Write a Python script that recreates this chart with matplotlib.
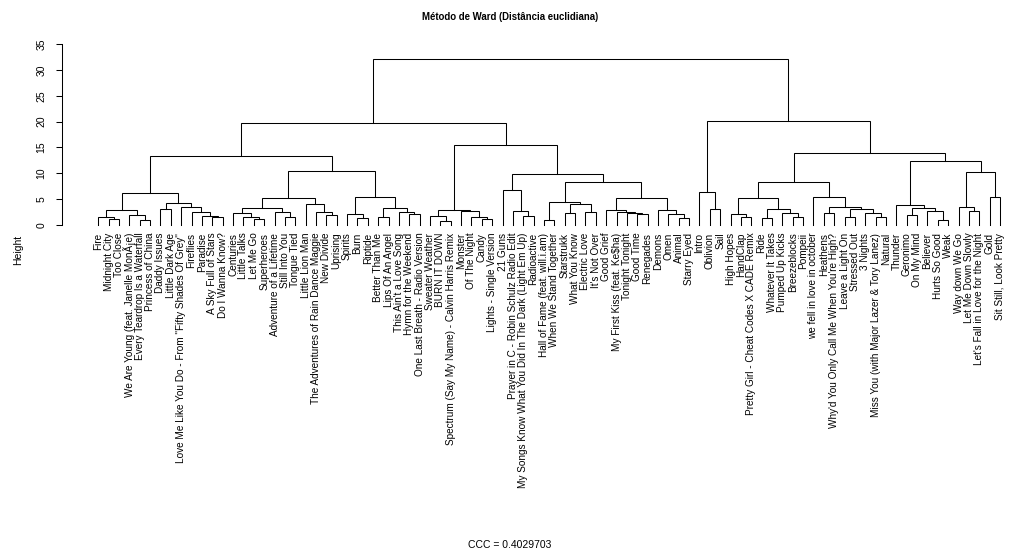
import matplotlib
matplotlib.use("Agg")
from matplotlib import pyplot as plt

plt.rcParams['font.family'] = ['Liberation Sans', 'DejaVu Sans']

# leaf labels in the order they appear along the x axis
labels = [
    "Fire", "Midnight City", "Too Close", "We Are Young (feat. Janelle MonÃ¡e)",
    "Every Teardrop Is a Waterfall", "Princess of China", "Daddy Issues", "Little Dark Age",
    "Love Me Like You Do - From \"Fifty Shades Of Grey\"", "Fireflies", "Paradise",
    "A Sky Full of Stars", "Do I Wanna Know?", "Centuries", "Little Talks", "Let Me Go",
    "Superheroes", "Adventure of a Lifetime", "Still Into You", "Tongue Tied",
    "Little Lion Man", "The Adventures of Rain Dance Maggie", "New Divide", "Uprising",
    "Spirits", "Burn", "Riptide", "Better Than Me", "Lips Of An Angel",
    "This Ain't a Love Song", "Hymn for the Weekend", "One Last Breath - Radio Version",
    "Sweater Weather", "BURN IT DOWN", "Spectrum (Say My Name) - Calvin Harris Remix",
    "Monster", "Of The Night", "Candy", "Lights - Single Version", "21 Guns",
    "Prayer in C - Robin Schulz Radio Edit",
    "My Songs Know What You Did In The Dark (Light Em Up)", "Radioactive",
    "Hall of Fame (feat. will.i.am)", "When We Stand Together", "Starstrukk",
    "What You Know", "Electric Love", "It's Not Over", "Good Grief",
    "My First Kiss (feat. Ke$ha)", "Tonight Tonight", "Good Time", "Renegades", "Demons",
    "Omen", "Animal", "Starry Eyed", "Intro", "Oblivion", "Sail", "High Hopes", "HandClap",
    "Pretty Girl - Cheat Codes X CADE Remix", "Ride", "Whatever It Takes",
    "Pumped Up Kicks", "Breezeblocks", "Pompeii", "we fell in love in october", "Heathens",
    "Why'd You Only Call Me When You're High?", "Leave a Light On", "Stressed Out",
    "3 Nights", "Miss You (with Major Lazer & Tory Lanez)", "Natural", "Thunder",
    "Geronimo", "On My Mind", "Believer", "Hurts So Good", "Weak", "Way down We Go",
    "Let Me Down Slowly", "Let's Fall in Love for the Night", "Gold",
    "Sit Still, Look Pretty",
]

# hclust style merge matrix: negative = leaf (1-based), positive = earlier merge row
merge_a = [-2, -1, -5, -4, 2, -7, -12, -11, -10, -9, 6, 5,
           -16, -15, -14, -19, -18, 15, -23, -22, -21, 18,
           -26, -25, -28, -31, -30, 25, 24, 22, 12,
           -34, -33, -38, -37, -36, 33,
           -42, -41, -40,
           -44, -46, -48, 42, 41,
           -53, -52, -51, -50,
           -57, -56, -55, 49, 45, 40, 37, 31,
           -60, -59,
           -63, -62, -65, -68, -67, 62, 61,
           -71, -73, -76, -75, 68, 67, -70, 66,
           -79, -82, -81, 75, -78,
           -85, -84, -87, 81, 79, 74, 59, 57]
merge_b = [-3, 1, -6, 3, 4, -8, -13, 7, 8, 9, 10, 11,
           -17, 13, 14, -20, 16, 17, -24, 19, 20, 21,
           -27, 23, -29, -32, 26, 27, 28, 29, 30,
           -35, 32, -39, 34, 35, 36,
           -43, 38, 39,
           -45, -47, -49, 43, 44,
           -54, 46, 47, 48,
           -58, 50, 51, 52, 53, 54, 55, 56,
           -61, 58,
           -64, 60, -66, -69, 63, 64, 65,
           -72, -74, -77, 69, 70, 71, 72, 73,
           -80, -83, 76, 77, 78,
           -86, 80, -88, 82, 83, 84, 85, 86]
heights = [1.1, 1.5, 0.97, 1.94, 2.9, 3.0, 1.5, 1.8, 2.45, 3.55, 4.3, 6.26,
           1.2, 1.5, 2.26, 1.5, 2.45, 3.2, 1.94, 2.45, 4.07, 5.2,
           1.4, 2.07, 1.6, 2.1, 2.58, 3.2, 5.45, 10.5, 13.25,
           0.7, 1.8, 1.1, 1.6, 2.65, 2.9,
           1.8, 2.77, 6.8,
           0.97, 2.4, 2.58, 4.07, 4.5,
           2.07, 2.26, 2.5, 2.9,
           1.45, 2.07, 2.95, 5.16, 8.4, 9.8, 15.5, 19.75,
           3.0, 6.3,
           1.5, 2.07, 1.4, 1.5, 2.26, 3.0, 5.16,
           2.4, 1.6, 1.5, 2.4, 3.1, 3.55, 5.5, 8.3,
           1.94, 0.97, 2.77, 3.36, 3.87,
           2.7, 3.55, 5.36, 10.3, 12.45, 14.0, 20.1, 32.1]

fig = plt.figure(figsize=(10.09, 5.54), dpi=100)
ax = fig.add_axes([62 / 1009, 1 - 225 / 554, 1 - 62 / 1009, (225 - 44) / 554])

node_x = []

def pos(k):
    # x and height of a leaf (negative) or a merge (positive)
    if k < 0:
        return -k - 1, 0.0
    return node_x[k - 1], heights[k - 1]

for a, b, h in zip(merge_a, merge_b, heights):
    xa, ya = pos(a)
    xb, yb = pos(b)
    ax.plot([xa, xa, xb, xb], [ya, h, h, yb], color='black', lw=0.75,
            clip_on=False, solid_joinstyle='miter')
    node_x.append((xa + xb) / 2)

ax.set_xlim(-3.504, 87.87)
ax.set_ylim(0, 35)
for s in ['top', 'right', 'bottom']:
    ax.spines[s].set_visible(False)
ax.spines['left'].set_bounds(0, 35)
ax.spines['left'].set_linewidth(0.75)

ax.set_yticks(range(0, 36, 5))
ax.set_yticklabels([str(v) for v in range(0, 36, 5)], rotation=90, va='center', fontsize=7.5)
ax.tick_params(axis='y', length=4.3, width=0.75, pad=7)

ax.set_xticks(range(len(labels)))
ax.set_xticklabels(labels, rotation=90, fontsize=7.2)
ax.tick_params(axis='x', length=0, pad=5.5)

fig.text(510 / 1009, 1 - 17 / 554, "Método de Ward (Distância euclidiana)",
         ha='center', va='center', fontsize=6.9, fontweight='bold')
fig.text(510 / 1009, 1 - 545 / 554, "CCC = 0.4029703", ha='center', va='center', fontsize=7.5)
fig.text(18 / 1009, 1 - 250 / 554, "Height", rotation=90, ha='center', va='center', fontsize=7.5)

fig.savefig("out.png", dpi=100)
